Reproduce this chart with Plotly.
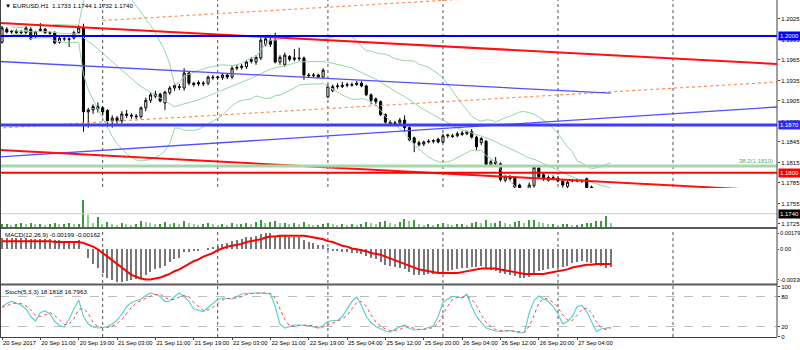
import pandas as pd
import plotly.graph_objects as go

# ---------------- data ----------------
bars = list(range(128))

opens = [1.1991, 1.2010, 1.2006, 1.2007, 1.2005, 1.2005, 1.2010, 1.1999, 1.2008, 1.2010,
         1.2005, 1.2005, 1.1991, 1.1996, 1.1996, 1.1997, 1.2005, 1.2012, 1.1889, 1.1892,
         1.1893, 1.1895, 1.1891, 1.1876, 1.1880, 1.1876, 1.1886, 1.1884, 1.1883, 1.1882,
         1.1895, 1.1906, 1.1912, 1.1915, 1.1902, 1.1917, 1.1924, 1.1926, 1.1924, 1.1946,
         1.1931, 1.1932, 1.1930, 1.1931, 1.1940, 1.1939, 1.1939, 1.1943, 1.1940, 1.1953,
         1.1954, 1.1955, 1.1963, 1.1962, 1.1968, 1.1988, 1.1994, 1.1994, 1.1962, 1.1958,
         1.1970, 1.1966, 1.1968, 1.1968, 1.1943, 1.1942, 1.1943, 1.1940, 1.1911, 1.1920,
         1.1926, 1.1926, 1.1928, 1.1928, 1.1929, 1.1931, 1.1927, 1.1914, 1.1908, 1.1904,
         1.1885, 1.1870, 1.1873, 1.1873, 1.1877, 1.1866, 1.1851, 1.1841, 1.1842, 1.1845,
         1.1846, 1.1849, 1.1845, 1.1854, 1.1854, 1.1854, 1.1856, 1.1857, 1.1860, 1.1852,
         1.1844, 1.1846, 1.1812, 1.1816, 1.1813, 1.1789, 1.1793, 1.1792, 1.1782, 1.1765,
         1.1767, 1.1781, 1.1807, 1.1797, 1.1789, 1.1793, 1.1792, 1.1788, 1.1780, 1.1788,
         1.1789, 1.1788, 1.1791, 1.1779, 1.1772, 1.1757, 1.1754, 1.1733]
highs = [1.2015, 1.2013, 1.2009, 1.2010, 1.2009, 1.2015, 1.2013, 1.2008, 1.2019, 1.2012,
         1.2007, 1.2007, 1.1999, 1.1999, 1.1998, 1.2008, 1.2016, 1.2018, 1.1895, 1.1900,
         1.1903, 1.1897, 1.1893, 1.1884, 1.1883, 1.1890, 1.1892, 1.1887, 1.1886, 1.1897,
         1.1910, 1.1918, 1.1920, 1.1917, 1.1920, 1.1927, 1.1931, 1.1930, 1.1953, 1.1948,
         1.1933, 1.1935, 1.1934, 1.1942, 1.1943, 1.1942, 1.1946, 1.1945, 1.1956, 1.1958,
         1.1959, 1.1965, 1.1969, 1.1972, 1.1998, 1.2001, 1.2000, 1.2005, 1.1972, 1.1976,
         1.1972, 1.1981, 1.1983, 1.1970, 1.1946, 1.1946, 1.1945, 1.1953, 1.1929, 1.1929,
         1.1931, 1.1933, 1.1932, 1.1932, 1.1934, 1.1934, 1.1929, 1.1916, 1.1910, 1.1906,
         1.1887, 1.1877, 1.1876, 1.1880, 1.1884, 1.1868, 1.1853, 1.1847, 1.1847, 1.1849,
         1.1849, 1.1851, 1.1857, 1.1857, 1.1857, 1.1860, 1.1861, 1.1862, 1.1864, 1.1854,
         1.1852, 1.1848, 1.1819, 1.1823, 1.1815, 1.1797, 1.1797, 1.1795, 1.1784, 1.1773,
         1.1786, 1.1810, 1.1809, 1.1800, 1.1796, 1.1796, 1.1795, 1.1790, 1.1789, 1.1791,
         1.1791, 1.1791, 1.1793, 1.1781, 1.1774, 1.1760, 1.1756, 1.1744]
lows = [1.1989, 1.2004, 1.2003, 1.2003, 1.2003, 1.2003, 1.1994, 1.1997, 1.2006, 1.2003,
        1.2002, 1.1988, 1.1989, 1.1993, 1.1984, 1.1995, 1.2003, 1.1860, 1.1866, 1.1886,
        1.1888, 1.1884, 1.1866, 1.1866, 1.1872, 1.1872, 1.1880, 1.1879, 1.1878, 1.1879,
        1.1890, 1.1902, 1.1909, 1.1903, 1.1892, 1.1914, 1.1920, 1.1921, 1.1920, 1.1928,
        1.1926, 1.1927, 1.1927, 1.1928, 1.1936, 1.1936, 1.1936, 1.1937, 1.1937, 1.1950,
        1.1951, 1.1952, 1.1960, 1.1958, 1.1965, 1.1985, 1.1984, 1.1960, 1.1958, 1.1955,
        1.1963, 1.1963, 1.1964, 1.1936, 1.1939, 1.1940, 1.1938, 1.1938, 1.1909, 1.1918,
        1.1923, 1.1924, 1.1925, 1.1926, 1.1927, 1.1925, 1.1912, 1.1900, 1.1900, 1.1883,
        1.1872, 1.1868, 1.1870, 1.1870, 1.1860, 1.1846, 1.1830, 1.1838, 1.1839, 1.1843,
        1.1843, 1.1843, 1.1843, 1.1851, 1.1851, 1.1852, 1.1854, 1.1855, 1.1850, 1.1833,
        1.1840, 1.1810, 1.1809, 1.1810, 1.1787, 1.1786, 1.1788, 1.1777, 1.1759, 1.1763,
        1.1760, 1.1778, 1.1791, 1.1788, 1.1787, 1.1789, 1.1786, 1.1778, 1.1777, 1.1786,
        1.1786, 1.1785, 1.1776, 1.1770, 1.1755, 1.1742, 1.1731, 1.1732]
closes = [1.2012, 1.2006, 1.2007, 1.2005, 1.2006, 1.2012, 1.1996, 1.2006, 1.2010, 1.2005,
          1.2004, 1.1990, 1.1997, 1.1996, 1.1995, 1.2005, 1.2012, 1.1889, 1.1892, 1.1897,
          1.1897, 1.1889, 1.1876, 1.1880, 1.1876, 1.1886, 1.1884, 1.1883, 1.1882, 1.1895,
          1.1906, 1.1914, 1.1915, 1.1905, 1.1918, 1.1924, 1.1928, 1.1925, 1.1946, 1.1931,
          1.1929, 1.1930, 1.1931, 1.1940, 1.1939, 1.1940, 1.1943, 1.1940, 1.1953, 1.1954,
          1.1956, 1.1962, 1.1966, 1.1969, 1.1994, 1.1996, 1.1988, 1.1962, 1.1969, 1.1972,
          1.1966, 1.1968, 1.1967, 1.1943, 1.1942, 1.1943, 1.1940, 1.1950, 1.1926, 1.1926,
          1.1927, 1.1928, 1.1929, 1.1929, 1.1931, 1.1927, 1.1914, 1.1906, 1.1904, 1.1885,
          1.1874, 1.1874, 1.1872, 1.1877, 1.1866, 1.1848, 1.1844, 1.1844, 1.1845, 1.1846,
          1.1847, 1.1845, 1.1854, 1.1855, 1.1853, 1.1857, 1.1858, 1.1860, 1.1852, 1.1838,
          1.1850, 1.1812, 1.1816, 1.1813, 1.1790, 1.1794, 1.1791, 1.1779, 1.1763, 1.1770,
          1.1782, 1.1808, 1.1794, 1.1791, 1.1793, 1.1792, 1.1788, 1.1782, 1.1786, 1.1789,
          1.1788, 1.1789, 1.1778, 1.1772, 1.1757, 1.1754, 1.1736, 1.1740]

volumes = [800, 800, 600, 800, 1000, 800, 1000, 800, 800, 600,
           800, 1000, 800, 800, 1000, 800, 800, 5600, 2600, 1000,
           2200, 800, 1200, 800, 600, 1000, 800, 600, 800, 1400,
           1200, 1000, 800, 800, 1200, 800, 1000, 800, 1400, 1000,
           800, 600, 800, 1000, 800, 600, 800, 600, 1000, 800,
           800, 1000, 800, 1200, 1600, 1000, 1200, 1400, 1000, 1000,
           800, 1000, 800, 1200, 800, 600, 600, 800, 1000, 800,
           600, 800, 600, 800, 600, 800, 1200, 1000, 800, 1200,
           1400, 1000, 800, 1200, 1800, 1400, 1600, 800, 600, 800,
           600, 800, 1000, 800, 600, 800, 800, 600, 1000, 1200,
           1000, 1600, 1000, 1000, 1400, 1000, 800, 1200, 1400, 1000,
           1600, 1600, 1200, 1000, 800, 800, 600, 800, 800, 600,
           600, 800, 1000, 1000, 1400, 1400, 2400, 1000]

macd_main = [0.0012, 0.0012, 0.0012, 0.0012, 0.0012, 0.0012, 0.0011, 0.0011, 0.0011, 0.0011,
             0.0011, 0.0010, 0.0010, 0.0009, 0.0009, 0.0009, 0.0010, 0.0000, -0.0009, -0.0016,
             -0.0020, -0.0026, -0.0031, -0.0034, -0.0036, -0.0036, -0.0035, -0.0034, -0.0033, -0.0031,
             -0.0028, -0.0025, -0.0022, -0.0021, -0.0018, -0.0014, -0.0011, -0.0009, -0.0003, -0.0003,
             -0.0002, -0.0001, 0.0000, 0.0002, 0.0003, 0.0004, 0.0006, 0.0007, 0.0009, 0.0010,
             0.0011, 0.0013, 0.0014, 0.0015, 0.0017, 0.0018, 0.0018, 0.0015, 0.0015, 0.0015,
             0.0014, 0.0014, 0.0013, 0.0010, 0.0008, 0.0007, 0.0005, 0.0005, 0.0001, -0.0001,
             -0.0002, -0.0003, -0.0003, -0.0004, -0.0004, -0.0005, -0.0007, -0.0009, -0.0011, -0.0014,
             -0.0017, -0.0018, -0.0019, -0.0020, -0.0022, -0.0025, -0.0028, -0.0028, -0.0028, -0.0027,
             -0.0027, -0.0026, -0.0025, -0.0024, -0.0023, -0.0022, -0.0021, -0.0020, -0.0019, -0.0019,
             -0.0018, -0.0021, -0.0023, -0.0024, -0.0026, -0.0027, -0.0028, -0.0029, -0.0031, -0.0031,
             -0.0030, -0.0026, -0.0024, -0.0023, -0.0022, -0.0021, -0.0020, -0.0019, -0.0018, -0.0015,
             -0.0014, -0.0013, -0.0014, -0.0015, -0.0017, -0.0018, -0.0020, -0.00199]
macd_signal = [0.0009, 0.0009, 0.0009, 0.0009, 0.0009, 0.0009, 0.0009, 0.0009, 0.0009, 0.0009,
               0.0009, 0.0008, 0.0008, 0.0008, 0.0008, 0.0008, 0.0008, 0.0007, 0.0005, 0.0003,
               0.0000, -0.0004, -0.0008, -0.0013, -0.0017, -0.0021, -0.0025, -0.0028, -0.0030, -0.0032,
               -0.0033, -0.0033, -0.0032, -0.0031, -0.0029, -0.0027, -0.0024, -0.0022, -0.0019, -0.0016,
               -0.0013, -0.0011, -0.0008, -0.0006, -0.0004, -0.0001, 0.0001, 0.0003, 0.0004, 0.0005,
               0.0006, 0.0008, 0.0009, 0.0010, 0.0011, 0.0013, 0.0014, 0.0014, 0.0015, 0.0015,
               0.0015, 0.0015, 0.0015, 0.0015, 0.0014, 0.0013, 0.0012, 0.0011, 0.0009, 0.0008,
               0.0006, 0.0004, 0.0003, 0.0001, 0.0000, -0.0001, -0.0002, -0.0004, -0.0005, -0.0006,
               -0.0008, -0.0010, -0.0012, -0.0014, -0.0016, -0.0018, -0.0020, -0.0022, -0.0023, -0.0024,
               -0.0025, -0.0026, -0.0026, -0.0026, -0.0026, -0.0026, -0.0025, -0.0024, -0.0023, -0.0022,
               -0.0021, -0.0021, -0.0021, -0.0021, -0.0022, -0.0023, -0.0024, -0.0025, -0.0026, -0.0027,
               -0.0027, -0.0027, -0.0027, -0.0027, -0.0026, -0.0025, -0.0024, -0.0023, -0.0022, -0.0020,
               -0.0019, -0.0018, -0.0017, -0.0017, -0.0016, -0.0016, -0.0016, -0.00162]

stoch_k = [60, 66, 70, 66, 63, 55, 40, 31, 48, 51,
           45, 30, 22, 19, 35, 55, 73, 40, 25, 19,
           17, 18, 20, 25, 33, 45, 60, 68, 72, 75,
           82, 87, 84, 80, 70, 71, 80, 87, 80, 70,
           55, 52, 50, 58, 67, 74, 77, 76, 75, 80,
           85, 86, 87, 87, 87, 86, 85, 60, 25, 17,
           20, 23, 23, 23, 22, 19, 17, 22, 30, 32,
           32, 40, 55, 70, 79, 62, 40, 28, 20, 15,
           11, 9, 15, 19, 23, 16, 13, 14, 15, 18,
           21, 40, 68, 75, 80, 79, 77, 85, 60, 40,
           28, 17, 14, 11, 10, 11, 12, 10, 7, 8,
           47, 72, 81, 75, 70, 60, 45, 25, 30, 40,
           60, 62, 50, 30, 10, 15, 17, 18.1818]
stoch_d = [58, 62, 65, 67, 66, 61, 53, 42, 40, 43,
           48, 42, 32, 24, 25, 36, 54, 56, 46, 28,
           20, 18, 18, 21, 26, 34, 46, 58, 67, 72,
           76, 81, 84, 84, 78, 74, 74, 79, 82, 79,
           68, 59, 52, 53, 58, 66, 73, 76, 76, 77,
           80, 84, 86, 87, 87, 87, 86, 77, 57, 34,
           21, 20, 22, 23, 23, 21, 19, 19, 23, 28,
           31, 35, 42, 55, 68, 70, 60, 43, 29, 21,
           15, 12, 12, 14, 19, 19, 17, 14, 14, 16,
           18, 26, 43, 61, 74, 78, 79, 80, 74, 62,
           43, 28, 20, 14, 12, 11, 11, 11, 10, 8,
           21, 42, 67, 76, 75, 68, 58, 43, 33, 32,
           43, 54, 57, 47, 30, 18, 14, 16.7963]

# time axis labels (every 8 hourly bars)
time_tick_bars = [0, 8, 16, 24, 32, 40, 48, 56, 64, 72, 80, 88, 96, 104, 112, 120]
time_tick_text = ["20 Sep 2017", "20 Sep 11:00", "20 Sep 19:00", "21 Sep 03:00",
                  "21 Sep 11:00", "21 Sep 19:00", "22 Sep 03:00", "22 Sep 11:00",
                  "22 Sep 19:00", "25 Sep 04:00", "25 Sep 12:00", "25 Sep 20:00",
                  "26 Sep 04:00", "26 Sep 12:00", "26 Sep 20:00", "27 Sep 04:00"]
day_start_bars = [21, 45, 68, 92, 116, 140]

price_ticks = [1.2025, 1.1995, 1.1965, 1.1935, 1.1905, 1.1875, 1.1845, 1.1815, 1.1785, 1.1755, 1.1725]
macd_ticks = [0.00179, 0.0, -0.00336]
macd_tick_text = ["0.00179", "0.00", "-0.00336"]
stoch_ticks = [100, 80, 20, 0]

# drawn objects: horizontal levels and trend lines (bar, price anchors)
level_blue_hi = 1.2000
level_blue_lo = 1.1870
level_red = 1.1800
level_fib = 1.1810
last_price = 1.1740
red_upper = ([-1, 163], [1.20194, 1.19587])
red_lower = ([-1, 163], [1.18335, 1.17728])
blue_upper = ([-1, 127], [1.19630, 1.19164])
blue_lower = ([-1, 163], [1.18228, 1.18968])
orange_upper = ([21, 100], [1.20228, 1.20556])
orange_lower = ([-1, 163], [1.18652, 1.19333])

# ---------------- layout geometry ----------------
XR = [-0.42, 161.7]
XDOM = [0, 0.97125]
MAIN_DOM = [0.3486, 1.0]
MACD_DOM = [0.1886, 0.3457]
STOCH_DOM = [0.0371, 0.1843]
VOL_DOM = [0.3486, 0.3486 + 40 / 350]

FONT = "Liberation Sans Narrow, Liberation Sans, Arial"
axis_font = dict(family=FONT, size=6, color="black")
time_font = dict(family=FONT, size=5.8, color="black")
text_font = dict(family=FONT, size=6.2, color="black")

fig = go.Figure()

# Bollinger bands (20, 2) from closes
cs = pd.Series(closes)
mid = cs.rolling(20, min_periods=3).mean()
sd = cs.rolling(20, min_periods=3).std(ddof=0)
bb_col = "#96d6a8"
for band in (mid + 2 * sd, mid, mid - 2 * sd):
    fig.add_trace(go.Scatter(x=bars, y=band, mode="lines", line=dict(color=bb_col, width=1),
                             xaxis="x", yaxis="y", hoverinfo="skip"))

# trend lines
def tline(pts, color, width, dash="solid"):
    fig.add_trace(go.Scatter(x=pts[0], y=pts[1], mode="lines",
                             line=dict(color=color, width=width, dash=dash),
                             xaxis="x", yaxis="y", hoverinfo="skip"))

tline(orange_upper, "#ff8c5a", 1.2, "dot")
tline(orange_lower, "#ff8c5a", 1.2, "dot")
tline(blue_upper, "#5050ff", 1.3)
tline(blue_lower, "#5050ff", 1.3)
tline(red_upper, "#ff1010", 2)
tline(red_lower, "#ff1010", 2)

# volumes
vol_cols = ["#3c9a3c" if i == 0 or volumes[i] >= volumes[i - 1] else "#8fcc8f" for i in range(len(volumes))]
fig.add_trace(go.Bar(x=bars, y=volumes, width=0.28, marker=dict(color=vol_cols, line=dict(width=0)),
                     xaxis="x", yaxis="y4", hoverinfo="skip"))

# candles
fig.add_trace(go.Candlestick(
    x=bars, open=opens, high=highs, low=lows, close=closes,
    increasing=dict(line=dict(color="black", width=1), fillcolor="white"),
    decreasing=dict(line=dict(color="black", width=1), fillcolor="black"),
    whiskerwidth=0, xaxis="x", yaxis="y", hoverinfo="skip"))

# MACD
fig.add_trace(go.Bar(x=bars, y=macd_main, width=0.25, marker=dict(color="#767676", line=dict(width=0)),
                     xaxis="x", yaxis="y2", hoverinfo="skip"))
fig.add_trace(go.Scatter(x=bars, y=macd_signal, mode="lines", line=dict(color="#ff0000", width=2),
                         xaxis="x", yaxis="y2", hoverinfo="skip"))

# Stochastic
fig.add_trace(go.Scatter(x=bars, y=stoch_k, mode="lines", line=dict(color="#5ccfcf", width=1.2),
                         xaxis="x", yaxis="y3", hoverinfo="skip"))
fig.add_trace(go.Scatter(x=bars, y=stoch_d, mode="lines", line=dict(color="#ff4040", width=1, dash="dot"),
                         xaxis="x", yaxis="y3", hoverinfo="skip"))

shapes = []
# day separators
for b in day_start_bars:
    shapes.append(dict(type="line", xref="x", yref="paper", x0=b, x1=b, y0=STOCH_DOM[0], y1=1,
                       line=dict(color="#505050", width=1, dash="dot"), layer="below"))
# stochastic levels
for lv in (80, 20):
    shapes.append(dict(type="line", xref="paper", yref="y3", x0=0, x1=XDOM[1], y0=lv, y1=lv,
                       line=dict(color="#bdbdbd", width=1, dash="dash"), layer="below"))
# horizontal levels in the price pane
def hline(val, color, width):
    shapes.append(dict(type="line", xref="paper", yref="y", x0=0, x1=XDOM[1], y0=val, y1=val,
                       line=dict(color=color, width=width), layer="above"))

hline(last_price, "#cfcfcf", 1)
hline(level_fib, "#a6d8a6", 3)
hline(level_red, "#ff0000", 2)
hline(level_blue_lo, "#3c3cff", 3)
hline(level_blue_hi, "#0000ff", 2)
# pane separators
for yp in (MAIN_DOM[0], 0.1871):
    shapes.append(dict(type="line", xref="paper", yref="paper", x0=0, x1=XDOM[1], y0=yp, y1=yp,
                       line=dict(color="#5a5a5a", width=2)))
# frame
shapes.append(dict(type="line", xref="paper", yref="paper", x0=XDOM[1], x1=XDOM[1], y0=STOCH_DOM[0], y1=1,
                   line=dict(color="#404040", width=1)))
shapes.append(dict(type="line", xref="paper", yref="paper", x0=0.0006, x1=0.0006, y0=STOCH_DOM[0], y1=1,
                   line=dict(color="#404040", width=1)))

annotations = []
def label_box(val, bg):
    annotations.append(dict(xref="paper", yref="y", x=XDOM[1] + 0.001, y=val, text=f"{val:.4f}",
                            showarrow=False, xanchor="left", yanchor="middle", bgcolor=bg,
                            font=dict(family=FONT, size=6, color="white"), borderpad=1, width=19))

label_box(level_blue_hi, "#0000ff")
label_box(level_blue_lo, "#2a2aff")
label_box(level_red, "#ff0000")
label_box(last_price, "#000000")
annotations.append(dict(xref="paper", yref="y", x=XDOM[1] - 0.002, y=level_fib, text="38.2(1.1810)",
                        showarrow=False, xanchor="right", yanchor="bottom",
                        font=dict(family=FONT, size=6, color="#5aa55a")))
annotations.append(dict(xref="paper", yref="paper", x=0.004, y=1 - 6 / 350, text="▼ EURUSD,H1  1.1733 1.1744 1.1732 1.1740",
                        showarrow=False, xanchor="left", yanchor="middle", font=text_font))
annotations.append(dict(xref="paper", yref="paper", x=0.004, y=1 - 234 / 350, text="MACD(12,26,9) -0.00199 -0.00162",
                        showarrow=False, xanchor="left", yanchor="middle", font=text_font))
annotations.append(dict(xref="paper", yref="paper", x=0.004, y=1 - 291 / 350, text="Stoch(5,3,3) 18.1818 16.7963",
                        showarrow=False, xanchor="left", yanchor="middle", font=text_font))

axis_common = dict(showgrid=False, zeroline=False, side="right", ticks="outside", ticklen=2,
                   tickcolor="#404040", tickfont=axis_font, showline=False, automargin=False)

fig.update_layout(
    width=800, height=350, margin=dict(l=0, r=0, t=0, b=0),
    paper_bgcolor="white", plot_bgcolor="white", showlegend=False,
    boxgap=0.38, barmode="overlay", bargap=0,
    xaxis=dict(domain=XDOM, range=XR, anchor="y3", showgrid=False, zeroline=False,
               tickvals=time_tick_bars, ticktext=time_tick_text, ticks="outside", ticklen=2,
               tickcolor="#404040", tickfont=time_font,
               tickangle=0, ticklabelposition="outside right", automargin=False,
               showline=True, linecolor="#404040", linewidth=1, rangeslider=dict(visible=False)),
    yaxis=dict(domain=MAIN_DOM, range=[1.17191, 1.20528], anchor="x",
               tickvals=price_ticks, ticktext=[f"{v:.4f}" for v in price_ticks], **axis_common),
    yaxis2=dict(domain=MACD_DOM, range=[-0.0038, 0.00223], anchor="x",
                tickvals=macd_ticks, ticktext=macd_tick_text,
                **{**axis_common, "tickfont": dict(family=FONT, size=5.6, color="black"), "ticklen": 1}),
    yaxis3=dict(domain=STOCH_DOM, range=[-1, 102], anchor="x",
                tickvals=stoch_ticks, ticktext=[str(v) for v in stoch_ticks], **axis_common),
    yaxis4=dict(domain=VOL_DOM, range=[0, 8000], anchor="x", visible=False),
    shapes=shapes, annotations=annotations,
)

fig.write_html("out.html")
